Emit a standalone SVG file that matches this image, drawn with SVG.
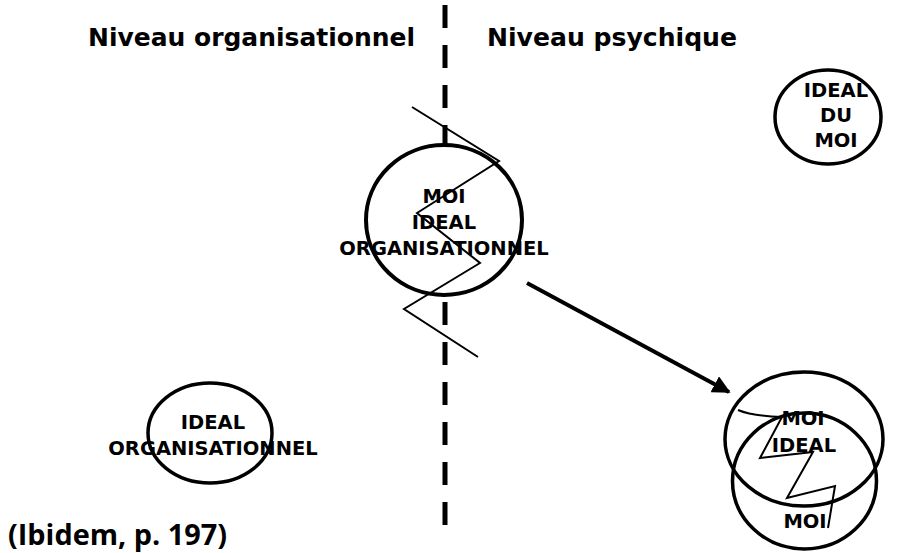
<svg xmlns="http://www.w3.org/2000/svg" width="897" height="553" viewBox="0 0 897 553">
<style>
.hdr{font-family:"DejaVu Sans",Verdana,sans-serif;font-weight:bold;font-size:25px;fill:#000}
.lbl{font-family:"DejaVu Sans",Verdana,sans-serif;font-weight:bold;font-size:19.5px;fill:#000;text-anchor:middle}
.src{font-family:"Open Sans","DejaVu Sans",sans-serif;font-weight:bold;font-size:29px;fill:#000}
.circ{fill:#fff;stroke:#000;stroke-width:4}
.circT{fill:none;stroke:#000;stroke-width:3.5}
.zig{fill:none;stroke:#000;stroke-width:2;stroke-linejoin:miter}
.dash{stroke:#000;stroke-width:5;stroke-dasharray:23 17}
</style>
<defs>
<marker id="ah" viewBox="0 0 10 10" refX="9" refY="5" markerWidth="4.5" markerHeight="4.5" orient="auto" markerUnits="strokeWidth">
<path d="M0,0 L10,5 L0,10 z" fill="#000"/>
</marker>
</defs>
<rect width="897" height="553" fill="#fff"/>
<g id="divider">
<line class="dash" x1="445" y1="5" x2="445" y2="148"/>
<line class="dash" x1="445" y1="302" x2="445" y2="527"/>
</g>
<text class="hdr" x="88" y="46" textLength="327" lengthAdjust="spacingAndGlyphs">Niveau organisationnel</text>
<text class="hdr" x="487" y="46" textLength="250" lengthAdjust="spacingAndGlyphs">Niveau psychique</text>
<g id="moi-ideal-org">
<ellipse class="circ" cx="444" cy="220" rx="78" ry="75"/>
<text class="lbl" x="444" y="203">MOI</text>
<text class="lbl" x="444" y="229">IDEAL</text>
<text class="lbl" x="444" y="255">ORGANISATIONNEL</text>
<polyline class="zig" points="412,107 499,161 417,213 480,263 404,309 478,357"/>
</g>
<g id="ideal-du-moi">
<ellipse class="circT" cx="828" cy="117" rx="53" ry="47"/>
<text class="lbl" x="836" y="97">IDEAL</text>
<text class="lbl" x="836" y="122">DU</text>
<text class="lbl" x="836" y="147">MOI</text>
</g>
<g id="ideal-org">
<ellipse class="circT" cx="210" cy="433" rx="62" ry="50"/>
<text class="lbl" x="213" y="429">IDEAL</text>
<text class="lbl" x="213" y="455">ORGANISATIONNEL</text>
</g>
<g id="moi-ideal-moi">
<ellipse class="circT" cx="804" cy="439" rx="79" ry="67"/>
<ellipse class="circT" cx="804.5" cy="481" rx="72" ry="68"/>
<text class="lbl" x="803" y="425">MOI</text>
<text class="lbl" x="804" y="452">IDEAL</text>
<text class="lbl" x="805" y="528">MOI</text>
<path class="zig" d="M738,410 Q752,416 782,417 L760,458 L813,452 L787,498 L835,486 L828,528"/>
</g>
<g id="connectors">
<line x1="527" y1="283" x2="729" y2="392" stroke="#000" stroke-width="4" marker-end="url(#ah)"/>
</g>
<text class="src" x="8" y="545" textLength="219" lengthAdjust="spacingAndGlyphs">(Ibidem, p. 197)</text>
</svg>
